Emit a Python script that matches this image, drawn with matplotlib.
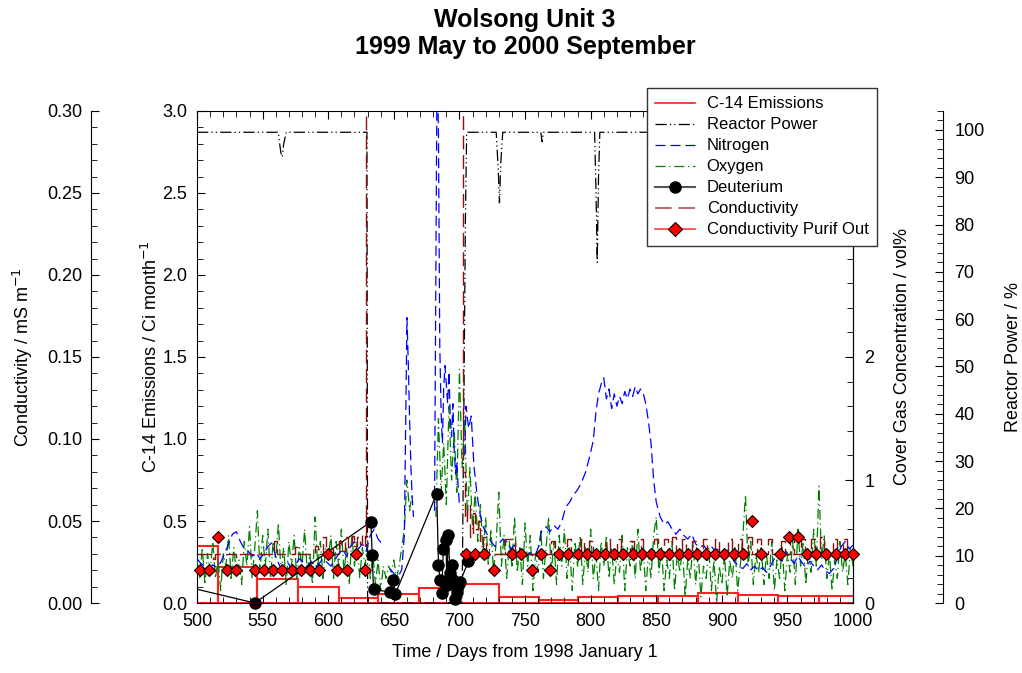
import numpy as np
import matplotlib
matplotlib.use('Agg')
import matplotlib.pyplot as plt
from matplotlib.lines import Line2D
from matplotlib.ticker import MultipleLocator, FormatStrFormatter

plt.rcParams['font.family'] = ['Liberation Sans', 'DejaVu Sans']

# C-14 emissions, monthly (Ci/month); month edges in days from 1998-01-01
c14_edges = [485, 516, 546, 577, 608, 638, 669, 699, 730, 761, 790, 821, 851, 882, 912, 943, 974, 1004]
c14_vals = [0.35, 0.22, 0.145, 0.095, 0.032, 0.053, 0.093, 0.115, 0.035, 0.02, 0.035, 0.045,
            0.045, 0.06, 0.05, 0.04, 0.04]

# reactor power (%)
rp_days = [500, 562, 563, 564, 565, 566, 568, 629.5, 630, 702, 703.5, 704.5, 705.5, 728, 729.5,
           730.5, 731.5, 733, 762, 763, 764, 803, 804, 805, 806, 807, 1000]
rp_vals = [99.5, 99.5, 97, 95, 94.3, 97, 99.5, 99.5, 0, 0, 45, 80, 99.5, 99.5, 92,
           84.6, 93, 99.5, 99.5, 97.5, 99.5, 99.5, 88, 72, 90, 99.5, 99.5]

# nitrogen in cover gas (vol%)
n2_days = [500, 503, 506, 509, 512, 515, 518, 521, 524, 527, 530, 533, 536, 539, 542, 545, 548, 551,
           554, 557, 560, 563, 566, 569, 572, 575, 578, 581, 584, 587, 590, 593, 596, 599, 602, 605,
           608, 611, 614, 617, 620, 623, 626, 629, 632, 635, 638, 641, 643, 647, 650, 653, 656, 658,
           659, 660, 661, 662, 663, 664, 665, 666, 681, 682, 683, 684, 685, 686, 687, 688, 689, 690,
           691, 692, 693, 694, 695, 696, 697, 698, 699, 700, 701, 704, 705, 707, 709, 711, 713, 715,
           718, 721, 724, 727, 730, 733, 736, 739, 742, 745, 748, 751, 754, 757, 760, 763, 766, 769,
           772, 775, 778, 781, 784, 787, 790, 793, 796, 799, 802, 804, 806, 808, 810, 812, 814, 816,
           818, 820, 822, 824, 826, 828, 830, 832, 834, 836, 838, 840, 842, 844, 846, 848, 850, 853,
           856, 859, 862, 865, 868, 871, 874, 877, 880, 883, 886, 889, 892, 895, 898, 901, 904, 907,
           910, 913, 916, 919, 922, 925, 928, 931, 934, 937, 940, 943, 946, 949, 952, 955, 958, 961,
           964, 967, 970, 973, 976, 979, 982, 985, 988, 991, 994, 997, 1000]
n2_vals = [0.36, 0.32, 0.30, 0.28, 0.31, 0.29, 0.33, 0.40, 0.48, 0.56, 0.58, 0.50, 0.44, 0.42, 0.38,
           0.41, 0.36, 0.40, 0.46, 0.49, 0.38, 0.30, 0.29, 0.33, 0.28, 0.31, 0.36, 0.33, 0.30, 0.34,
           0.29, 0.32, 0.36, 0.33, 0.30, 0.35, 0.40, 0.44, 0.38, 0.46, 0.50, 0.44, 0.48, 0.42, 0.55,
           0.60, 0.52, 0.48, np.nan, 0.28, 0.24, 0.21, 0.27, 0.55, 1.40, 2.32, 1.95, 1.50, 1.10, 0.85,
           0.70, np.nan, 0.75, 2.60, 4.50, 3.80, 2.10, 1.55, 1.30, 1.75, 1.93, 1.78, 1.62, 1.88, 1.50,
           1.35, 1.62, 1.25, 1.05, 1.15, 0.95, 0.80, np.nan, 1.20, 1.60, 1.42, 1.52, 1.12, 0.92, 0.76,
           0.62, 0.56, 0.50, 0.46, 0.48, 0.52, 0.50, 0.44, 0.47, 0.40, 0.43, 0.38, 0.41, 0.37, 0.45,
           0.60, 0.62, 0.58, 0.63, 0.60, 0.66, 0.78, 0.82, 0.88, 0.92, 0.98, 1.06, 1.18, 1.32, 1.55,
           1.70, 1.78, 1.83, 1.66, 1.74, 1.58, 1.70, 1.60, 1.68, 1.62, 1.72, 1.66, 1.74, 1.68, 1.76,
           1.70, 1.74, 1.71, 1.62, 1.48, 1.30, 1.00, 0.82, 0.70, 0.64, 0.66, 0.60, 0.56, 0.60, 0.55,
           0.52, 0.56, 0.48, 0.45, 0.47, 0.43, 0.46, 0.42, 0.44, 0.40, 0.43, 0.38, 0.33, 0.30, 0.28,
           0.32, 0.27, 0.30, 0.26, 0.29, 0.25, 0.30, 0.36, 0.40, 0.34, 0.42, 0.37, 0.32, 0.38, 0.33,
           0.29, 0.34, 0.30, 0.27, 0.31, 0.26, 0.24, 0.28, 0.36, 0.46, 0.50, 0.44, 0.47]

# oxygen in cover gas (vol%), read every second day, segment by segment
o2_a_start = 500
o2_a = [0.35, 0.2, 0.45, 0.15, 0.4, 0.25, 0.5, 0.2, 0.35, 0.1, 0.4, 0.3, 0.55, 0.2, 0.45, 0.25,
        0.35, 0.15, 0.5, 0.3, 0.62, 0.2, 0.45, 0.75, 0.25, 0.55, 0.3, 0.6, 0.2, 0.5, 0.35, 0.65,
        0.25, 0.45, 0.15, 0.5, 0.3, 0.55, 0.2, 0.45, 0.3, 0.6, 0.25, 0.4, 0.15, 0.7, 0.3, 0.5,
        0.2, 0.45, 0.35, 0.55, 0.2, 0.5, 0.3, 0.6, 0.25, 0.45, 0.15, 0.55, 0.3, 0.5, 0.2, 0.45,
        0.3, 0.5, 0.2, 0.4, 0.15, 0.35, 0.1, 0.3, 0.2, 0.3, 0.25, 0.35, 0.2, 0.3, 0.45, 0.6,
        1.0, 0.75, 0.9]
o2_b_start = 682
o2_b = [0.7, 1.5, 0.9, 1.3, 0.8, 1.6, 1.0, 1.4, 0.9, 1.9, 1.1, 1.5, 0.7, 1.1, 0.6, 0.9, 0.5,
        0.8, 0.4, 0.7, 0.3, 0.6, 0.25, 0.5, 0.9, 0.3, 0.55, 0.2, 0.5, 0.3, 0.7, 0.25, 0.45,
        0.15, 0.65, 0.3, 0.55, 0.1, 0.4, 0.25, 0.6, 0.2, 0.45, 0.7, 0.25, 0.5, 0.15, 0.55, 0.3,
        0.6, 0.2, 0.45, 0.1, 0.5, 0.3, 0.55, 0.15, 0.45, 0.25, 0.6, 0.2, 0.4, 0.1, 0.5, 0.3,
        0.55, 0.2, 0.45, 0.15, 0.4, 0.25, 0.55, 0.1, 0.45, 0.3, 0.5, 0.2, 0.6, 0.25, 0.45, 0.1,
        0.4, 0.2, 0.55, 0.7, 0.25, 0.45, 0.1, 0.35, 0.2, 0.5, 0.1, 0.4, 0.25, 0.45, 0.05, 0.35,
        0.2, 0.5, 0.15, 0.4, 0.05, 0.3, 0.2, 0.45, 0.1, 0.35, 0.0, 0.3, 0.15, 0.4, 0.05, 0.35,
        0.2, 0.45, 0.1, 0.3, 0.55, 0.88, 0.3, 0.5, 0.15, 0.4, 0.25, 0.45, 0.15, 0.4, 0.2, 0.5,
        0.1, 0.35, 0.2, 0.45, 0.1, 0.4, 0.25, 0.5, 0.15, 0.6, 0.3, 0.5, 0.15, 0.45, 0.25, 0.6,
        0.3, 0.95, 0.35, 0.55, 0.2, 0.4, 0.1, 0.35, 0.2, 0.5, 0.25, 0.4, 0.15, 0.45, 0.3]

# deuterium in cover gas (vol%)
d2_days = [485, 544, 632.5, 633.5, 634.5, 647, 649.5, 651, 682.7, 684, 685.2, 686.5, 687.7, 689.8,
           690.3, 691.5, 692.8, 694, 695.4, 696.6, 697.9, 699, 700.5, 706.8]
d2_vals = [0.15, 0.0, 0.66, 0.39, 0.11, 0.09, 0.19, 0.07, 0.89, 0.31, 0.19, 0.08, 0.44, 0.51,
           0.15, 0.55, 0.24, 0.31, 0.19, 0.03, 0.09, 0.14, 0.17, 0.34]

# moderator conductivity (mS/m)
cond_days = [500, 512, 514, 530, 533, 559, 561, 575, 577, 590, 592, 596, 598, 604, 608, 610, 613,
             615, 618, 620, 622, 624, 626, 628, 629, 703, 704, 706, 708, 710, 712, 714, 716, 718,
             720, 735, 742, 770, 773, 782, 785, 793, 795, 799, 802, 812, 815, 820, 823, 830, 833,
             838, 840, 848, 851, 856, 859, 862, 865, 870, 873, 877, 880, 886, 889, 895, 898, 905,
             908, 912, 915, 920, 923, 927, 930, 935, 938, 945, 948, 952, 955, 960, 963, 968, 971,
             975, 978, 985, 988, 992, 995, 1000]
cond_vals = [0.030, 0.027, 0.030, 0.028, 0.030, 0.038, 0.030, 0.034, 0.030, 0.035, 0.030, 0.040,
             0.033, 0.030, 0.038, 0.032, 0.040, 0.034, 0.041, 0.035, 0.040, 0.036, 0.042, 0.035,
             0.500, 0.080, 0.050, 0.060, 0.040, 0.055, 0.045, 0.050, 0.035, 0.040, 0.030, 0.039,
             0.030, 0.038, 0.030, 0.039, 0.030, 0.039, 0.030, 0.038, 0.030, 0.039, 0.030, 0.039,
             0.030, 0.038, 0.030, 0.039, 0.030, 0.039, 0.030, 0.039, 0.030, 0.040, 0.030, 0.039,
             0.030, 0.038, 0.030, 0.039, 0.030, 0.039, 0.030, 0.039, 0.030, 0.039, 0.030, 0.040,
             0.030, 0.039, 0.030, 0.039, 0.030, 0.038, 0.030, 0.039, 0.030, 0.039, 0.030, 0.039,
             0.030, 0.040, 0.030, 0.039, 0.030, 0.039, 0.030, 0.030]

# conductivity at purification outlet (mS/m)
purif_days = [502, 509, 516, 523, 530, 544, 551, 558, 565, 572, 579, 586, 593, 600, 607, 614, 621,
              628, 705, 712, 719, 726, 740, 747, 755, 762, 769, 776, 783, 790, 797, 804, 811, 818,
              825, 832, 839, 846, 853, 860, 867, 874, 881, 888, 895, 902, 909, 916, 923, 930, 944,
              951, 958, 965, 972, 979, 987, 994, 1000]
purif_vals = [0.02, 0.02, 0.04, 0.02, 0.02, 0.02, 0.02, 0.02, 0.02, 0.02, 0.02, 0.02, 0.02, 0.03,
              0.02, 0.02, 0.03, 0.02, 0.03, 0.03, 0.03, 0.02, 0.03, 0.03, 0.02, 0.03, 0.02, 0.03,
              0.03, 0.03, 0.03, 0.03, 0.03, 0.03, 0.03, 0.03, 0.03, 0.03, 0.03, 0.03, 0.03, 0.03,
              0.03, 0.03, 0.03, 0.03, 0.03, 0.03, 0.05, 0.03, 0.03, 0.04, 0.04, 0.03, 0.03, 0.03,
              0.03, 0.03, 0.03]

# cover gas tick labels (3 and 4 sit under the legend box)
cg_ticks = [0, 1, 2, 3, 4]
cg_ticklabels = ['0', '1', '2', '', '']

fig = plt.figure(figsize=(10.22, 6.73), dpi=100)
ax = fig.add_axes([0.1928, 0.1040, 0.6419, 0.7311])
ax_rp = ax.twinx()
ax_cg = ax.twinx()
ax_cond = ax.twinx()
ax.set_zorder(1)
ax_rp.set_zorder(2)
ax_cg.set_zorder(3)
ax_cond.set_zorder(4)

ls_rp = (0, (9, 2.5, 1, 2.5, 1, 2.5))
ls_n2 = (0, (8, 4))
ls_o2 = (0, (8, 3, 1, 3))
ls_cond = (0, (10, 4))
c_cond = '#8b1010'

# C-14 as monthly bars
ax.bar(c14_edges[:-1], c14_vals, width=np.diff(c14_edges), align='edge',
       fill=False, edgecolor='#ff2020', linewidth=1.5)

ax_rp.plot(rp_days, rp_vals, color='black', lw=0.9, linestyle=ls_rp)

o2_days = list(range(o2_a_start, o2_a_start + 2 * len(o2_a), 2)) + [np.nan] + \
    list(range(o2_b_start, o2_b_start + 2 * len(o2_b), 2))
o2_all = o2_a + [np.nan] + o2_b
ax_cg.plot(o2_days, o2_all, color='green', lw=0.9, linestyle=ls_o2)
ax_cg.plot(n2_days, n2_vals, color='blue', lw=0.9, linestyle=ls_n2)
ax_cg.plot(d2_days, d2_vals, color='black', lw=0.9)
d2_in = [(d, v) for d, v in zip(d2_days, d2_vals) if d >= 500]
ax_cg.plot([d for d, v in d2_in], [v for d, v in d2_in], 'o', color='black',
           markersize=8, clip_on=False)

ax_cond.plot(cond_days, cond_vals, color=c_cond, lw=1.0, linestyle=ls_cond, drawstyle='steps-post')
ax_cond.plot(purif_days, purif_vals, 'D', markerfacecolor='red', markeredgecolor='black',
             markeredgewidth=0.8, markersize=6, linestyle='none', clip_on=False)

# main axis
ax.set_xlim(500, 1000)
ax.set_ylim(0, 3)
ax.xaxis.set_major_locator(MultipleLocator(50))
ax.xaxis.set_minor_locator(MultipleLocator(10))
ax.yaxis.set_major_locator(MultipleLocator(0.5))
ax.yaxis.set_minor_locator(MultipleLocator(0.1))
ax.yaxis.set_major_formatter(FormatStrFormatter('%.1f'))
ax.tick_params(axis='x', which='both', direction='in', top=True, labelsize=13, pad=7)
ax.tick_params(axis='y', which='both', direction='in', right=False, labelsize=13, pad=7)
ax.tick_params(which='major', length=6)
ax.tick_params(which='minor', length=4)
ax.set_xlabel('Time / Days from 1998 January 1', fontsize=13, labelpad=10)
ax.set_ylabel('C-14 Emissions / Ci month$^{-1}$', fontsize=13, labelpad=1)

# cover gas axis
ax_cg.set_ylim(0, 4)
ax_cg.set_yticks(cg_ticks, cg_ticklabels)
ax_cg.yaxis.set_minor_locator(MultipleLocator(0.2))
ax_cg.tick_params(axis='y', which='both', direction='in', labelsize=13, pad=8)
ax_cg.tick_params(which='major', length=6)
ax_cg.tick_params(which='minor', length=4)
ax_cg.set_ylabel('Cover Gas Concentration / vol%', fontsize=13, labelpad=14)
for s in ['top', 'bottom', 'left']:
    ax_cg.spines[s].set_visible(False)

# reactor power axis
ax_rp.set_ylim(0, 104)
ax_rp.spines['right'].set_position(('axes', 1.1372))
ax_rp.yaxis.set_major_locator(MultipleLocator(10))
ax_rp.yaxis.set_minor_locator(MultipleLocator(2))
ax_rp.tick_params(axis='y', which='both', direction='in', labelsize=13, pad=8)
ax_rp.tick_params(which='major', length=6)
ax_rp.tick_params(which='minor', length=4)
ax_rp.set_ylabel('Reactor Power / %', fontsize=13, labelpad=15)
for s in ['top', 'bottom', 'left']:
    ax_rp.spines[s].set_visible(False)

# conductivity axis, far left
ax_cond.set_ylim(0, 0.30)
ax_cond.spines['left'].set_position(('axes', -0.1616))
ax_cond.spines['left'].set_visible(True)
ax_cond.yaxis.set_ticks_position('left')
ax_cond.yaxis.set_label_position('left')
ax_cond.yaxis.set_major_locator(MultipleLocator(0.05))
ax_cond.yaxis.set_minor_locator(MultipleLocator(0.01))
ax_cond.yaxis.set_major_formatter(FormatStrFormatter('%.2f'))
ax_cond.tick_params(axis='y', which='both', direction='in', labelsize=13, pad=6)
ax_cond.tick_params(which='major', length=6)
ax_cond.tick_params(which='minor', length=4)
ax_cond.set_ylabel('Conductivity / mS m$^{-1}$', fontsize=13, labelpad=9)
for s in ['top', 'bottom', 'right']:
    ax_cond.spines[s].set_visible(False)

handles = [
    Line2D([], [], color='#ff2020', lw=1.2),
    Line2D([], [], color='black', lw=0.9, linestyle=ls_rp),
    Line2D([], [], color='blue', lw=0.9, linestyle=ls_n2),
    Line2D([], [], color='green', lw=0.9, linestyle=ls_o2),
    Line2D([], [], color='#555555', lw=1.5, marker='o', markersize=8, markerfacecolor='black',
           markeredgecolor='black'),
    Line2D([], [], color='#b05050', lw=1.2, linestyle=ls_cond),
    Line2D([], [], color='#ff4040', lw=1.2, marker='D', markersize=7, markerfacecolor='red',
           markeredgecolor='black', markeredgewidth=0.8),
]
labels = ['C-14 Emissions', 'Reactor Power', 'Nitrogen', 'Oxygen', 'Deuterium',
          'Conductivity', 'Conductivity Purif Out']
fig.legend(handles, labels, loc='upper right', bbox_to_anchor=(0.858, 0.869), fontsize=12,
           frameon=True, fancybox=False, edgecolor='#333333', framealpha=1,
           handlelength=2.4, labelspacing=0.36, borderpad=0.5, handletextpad=0.7,
           borderaxespad=0)

fig.text(0.5137, 0.970, 'Wolsong Unit 3', ha='center', va='center', fontsize=18, fontweight='bold')
fig.text(0.5137, 0.930, '1999 May to 2000 September', ha='center', va='center',
         fontsize=18, fontweight='bold')

fig.savefig('out.png', dpi=100)
